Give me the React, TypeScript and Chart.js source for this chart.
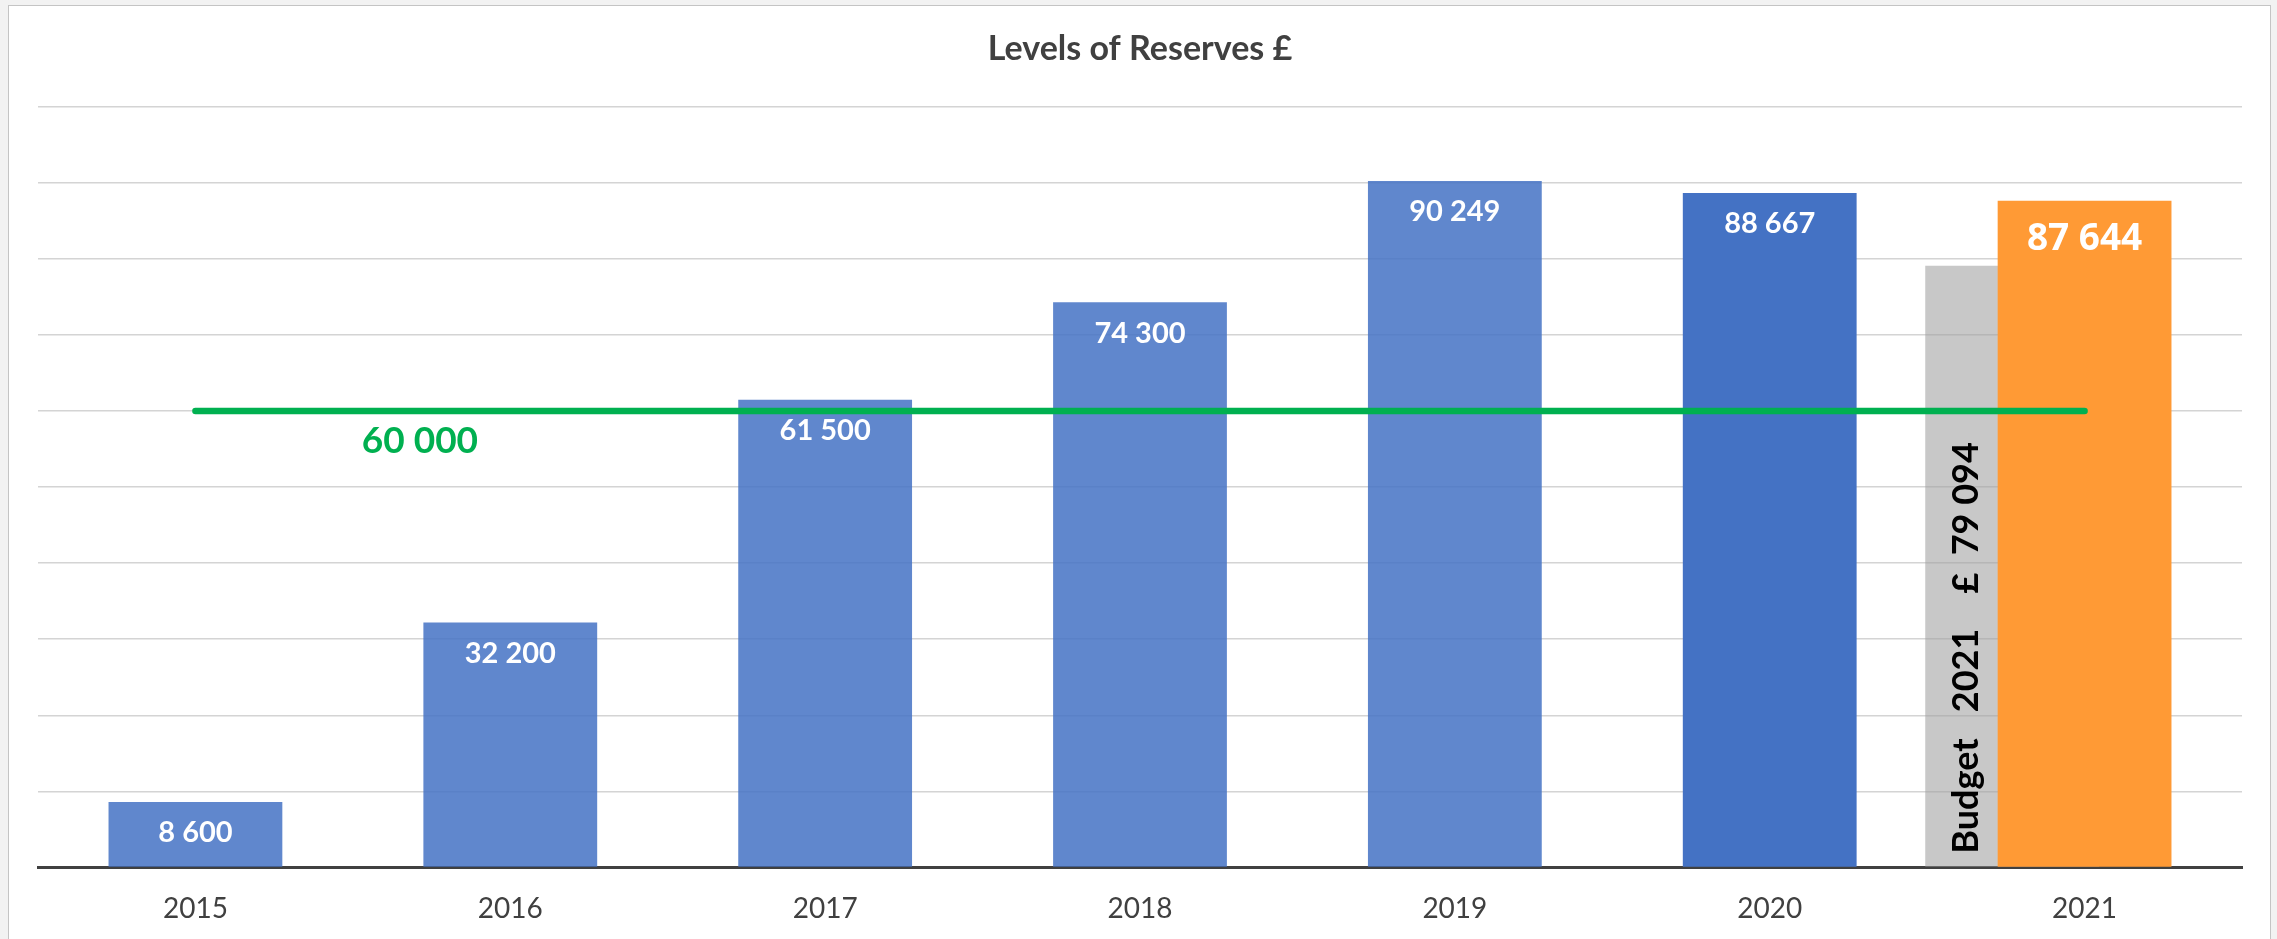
import React, { useEffect, useRef } from 'react';
import { Chart, registerables } from 'chart.js';

Chart.register(...registerables);

// ---------- data ----------
const TITLE = 'Levels of Reserves £';
const CATEGORIES = ['2015', '2016', '2017', '2018', '2019', '2020', '2021'];
const RESERVES = [8600, 32200, 61500, 74300, 90249, 88667, 87644];
const THRESHOLD = [60000, 60000, 60000, 60000, 60000, 60000, 60000];
const THRESHOLD_LABEL = '60 000';
const BUDGET_YEAR = '2021';
const BUDGET_VALUE = 79094;
const BUDGET_LABEL = 'Budget   2021    £  79 094';
const Y_MIN = 0;
const Y_MAX = 100000;
const Y_STEP = 10000;

// ---------- layout / style constants ----------
const CANVAS_W = 2261;
const CANVAS_H = 961;
const BUDGET_SHIFT = -0.23; // budget bar sits left of the 2021 actual bar
const THRESHOLD_LABEL_POS = 0.713;
const BLUE_ALPHA = 'rgba(68,114,196,0.85)';
const BLUE_SOLID = '#4472C4';
const ORANGE = '#FF9A35';
const GREY = 'rgba(160,160,160,0.58)';
const GREEN = '#00B050';

const fmt = (v: number) => String(v).replace(/\B(?=(\d{3})+(?!\d))/g, ' ');

const labelsPlugin = {
  id: 'customLabels',
  afterDatasetsDraw(chart: any) {
    const ctx = chart.ctx as CanvasRenderingContext2D;
    const yScale = chart.scales.y;
    const xb = chart.scales.xb;
    ctx.save();

    const mainIdx = chart.data.datasets.findIndex((d: any) => d.label === 'Reserves');
    const meta = chart.getDatasetMeta(mainIdx);
    meta.data.forEach((bar: any, i: number) => {
      const last = i === CATEGORIES.length - 1;
      ctx.fillStyle = '#FFFFFF';
      ctx.textAlign = 'center';
      ctx.textBaseline = 'middle';
      if (last) {
        ctx.font = 'bold 37px "Open Sans"';
        ctx.fillText(fmt(RESERVES[i]), bar.x, bar.y + 39);
      } else {
        ctx.font = 'bold 29px Lato';
        ctx.fillText(fmt(RESERVES[i]), bar.x, bar.y + 31);
      }
    });

    ctx.fillStyle = GREEN;
    ctx.font = 'bold 37px Lato';
    ctx.textAlign = 'center';
    ctx.textBaseline = 'middle';
    ctx.fillText(
      THRESHOLD_LABEL,
      xb.getPixelForValue(THRESHOLD_LABEL_POS),
      yScale.getPixelForValue(THRESHOLD[0]) + 30
    );

    const bIdx = chart.data.datasets.findIndex((d: any) => d.label === 'Budget');
    const bBar: any = chart.getDatasetMeta(bIdx).data[0];
    if (bBar) {
      const left = bBar.x - bBar.width / 2;
      ctx.translate(left + 53, bBar.base - 13);
      ctx.rotate(-Math.PI / 2);
      ctx.fillStyle = '#000000';
      ctx.font = 'bold 36px Lato';
      ctx.textAlign = 'left';
      ctx.textBaseline = 'alphabetic';
      ctx.fillText(BUDGET_LABEL, 0, 0);
    }
    ctx.restore();
  },
};

export default function App() {
  const ref = useRef<HTMLCanvasElement>(null);

  useEffect(() => {
    if (!ref.current) return;
    const n = CATEGORIES.length;
    const chart = new Chart(ref.current, {
      type: 'bar',
      data: {
        labels: CATEGORIES,
        datasets: [
          {
            type: 'line',
            label: 'Threshold',
            data: THRESHOLD,
            borderColor: GREEN,
            borderWidth: 6.5,
            borderCapStyle: 'round',
            pointRadius: 0,
            fill: false,
            order: 0,
          } as any,
          {
            type: 'bar',
            label: 'Reserves',
            data: RESERVES,
            grouped: false,
            backgroundColor: CATEGORIES.map((_, i) =>
              i === n - 1 ? ORANGE : i === n - 2 ? BLUE_SOLID : BLUE_ALPHA
            ),
            categoryPercentage: 0.8,
            barPercentage: 0.69,
            order: 1,
          } as any,
          {
            type: 'bar',
            label: 'Budget',
            xAxisID: 'xb',
            grouped: false,
            data: [{ x: CATEGORIES.indexOf(BUDGET_YEAR) + BUDGET_SHIFT, y: BUDGET_VALUE }],
            backgroundColor: GREY,
            categoryPercentage: 0.8,
            barPercentage: 0.69,
            order: 2,
          } as any,
        ],
      },
      options: {
        responsive: false,
        animation: false,
        layout: { padding: { left: 29, right: 28, top: 0, bottom: 16 } },
        plugins: {
          legend: { display: false },
          tooltip: { enabled: false },
          title: {
            display: true,
            text: TITLE,
            color: '#404040',
            font: { family: 'Lato', size: 34, weight: 'bold', lineHeight: 1.2 },
            padding: { top: 23, bottom: 37 },
          },
        },
        scales: {
          x: {
            type: 'category',
            offset: true,
            grid: { display: false, drawTicks: false },
            border: { display: true, color: '#404040', width: 3 },
            ticks: {
              color: '#404040',
              font: { family: 'Lato', size: 28 },
              padding: 25,
              maxRotation: 0,
            },
          },
          xb: {
            type: 'linear',
            display: false,
            offset: false,
            min: -0.5,
            max: n - 0.5,
            grid: { offset: false },
            afterBuildTicks: (axis: any) => {
              axis.ticks = CATEGORIES.map((_, i) => ({ value: i }));
            },
          },
          y: {
            min: Y_MIN,
            max: Y_MAX,
            ticks: { display: false, stepSize: Y_STEP },
            grid: { color: '#d4d4d4', lineWidth: 1.5, drawTicks: false },
            border: { display: false },
          },
        },
      } as any,
      plugins: [labelsPlugin],
    });
    const fontsReady = (document as any).fonts;
    if (fontsReady && fontsReady.load) {
      Promise.all([
        fontsReady.load('bold 28px Lato'),
        fontsReady.load('28px Lato'),
        fontsReady.load('bold 37px "Open Sans"'),
      ])
        .then(() => chart.update())
        .catch(() => {});
    }
    return () => chart.destroy();
  }, []);

  return (
    <div
      style={{
        position: 'fixed',
        left: 0,
        top: 0,
        width: 2277,
        height: 939,
        background: '#f2f2f2',
        overflow: 'hidden',
      }}
    >
      <div
        style={{
          position: 'absolute',
          left: 8,
          top: 5,
          width: 2263,
          height: 990,
          boxSizing: 'border-box',
          border: '1px solid #c4c4c4',
          background: '#ffffff',
        }}
      >
        <canvas
          ref={ref}
          width={CANVAS_W}
          height={CANVAS_H}
          style={{ display: 'block', width: CANVAS_W, height: CANVAS_H }}
        />
      </div>
    </div>
  );
}
